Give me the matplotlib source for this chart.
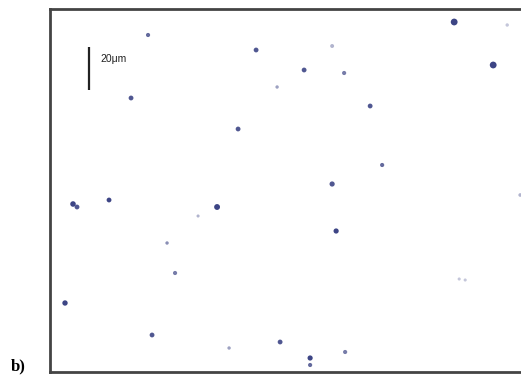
import numpy as np
import matplotlib.pyplot as plt

# particle positions (pixel units, y down)
px = [148, 256, 131, 238, 332, 304, 344, 277, 370, 454, 507, 493, 382, 332,
      73, 77, 109, 217, 198, 167, 175, 65, 336, 152, 229, 280, 345, 310, 310,
      459, 465, 520]
py = [35, 50, 98, 129, 46, 70, 73, 87, 106, 22, 25, 65, 165, 184,
      204, 207, 200, 207, 216, 243, 273, 303, 231, 335, 348, 342, 352, 358, 365,
      279, 280, 195]
psize = [9, 12, 12, 12, 8, 12, 9, 6, 12, 24, 6, 24, 9, 14,
         16, 12, 12, 18, 5, 6, 9, 15, 14, 12, 6, 12, 9, 14, 9,
         5, 5, 7]
palpha = [0.8, 0.9, 0.9, 0.9, 0.4, 0.9, 0.7, 0.5, 0.9, 1.0, 0.3, 1.0, 0.8, 0.9,
          1.0, 0.9, 1.0, 1.0, 0.4, 0.6, 0.7, 1.0, 1.0, 0.9, 0.5, 0.9, 0.7, 1.0, 0.8,
          0.3, 0.3, 0.4]

fig = plt.figure(figsize=(5.21, 3.77), dpi=100)
ax = fig.add_axes([50 / 521, 5 / 377, 1 - 50 / 521 + 0.01, 363 / 377])
ax.set_xlim(50, 526)
ax.set_ylim(372, 9)

cols = np.zeros((len(px), 4))
cols[:, :3] = [0.24, 0.27, 0.52]
cols[:, 3] = palpha
ax.scatter(px, py, s=psize, c=cols, edgecolors='none')

# scale bar
ax.plot([89, 89], [47, 90], color='#222222', lw=1.6, solid_capstyle='butt')
ax.text(100, 59, '20\u03bcm', fontsize=7.5, family='Liberation Sans',
        va='center', ha='left', color='#222222')

for s in ['left', 'top', 'bottom']:
    ax.spines[s].set_color('#444444')
    ax.spines[s].set_linewidth(2)
ax.spines['right'].set_visible(False)
ax.set_xticks([])
ax.set_yticks([])

fig.text(11 / 521, 1 - 366 / 377, 'b)', fontsize=12, fontweight='bold',
         family='Liberation Serif', va='center', ha='left')

fig.savefig('out.png', dpi=100)
